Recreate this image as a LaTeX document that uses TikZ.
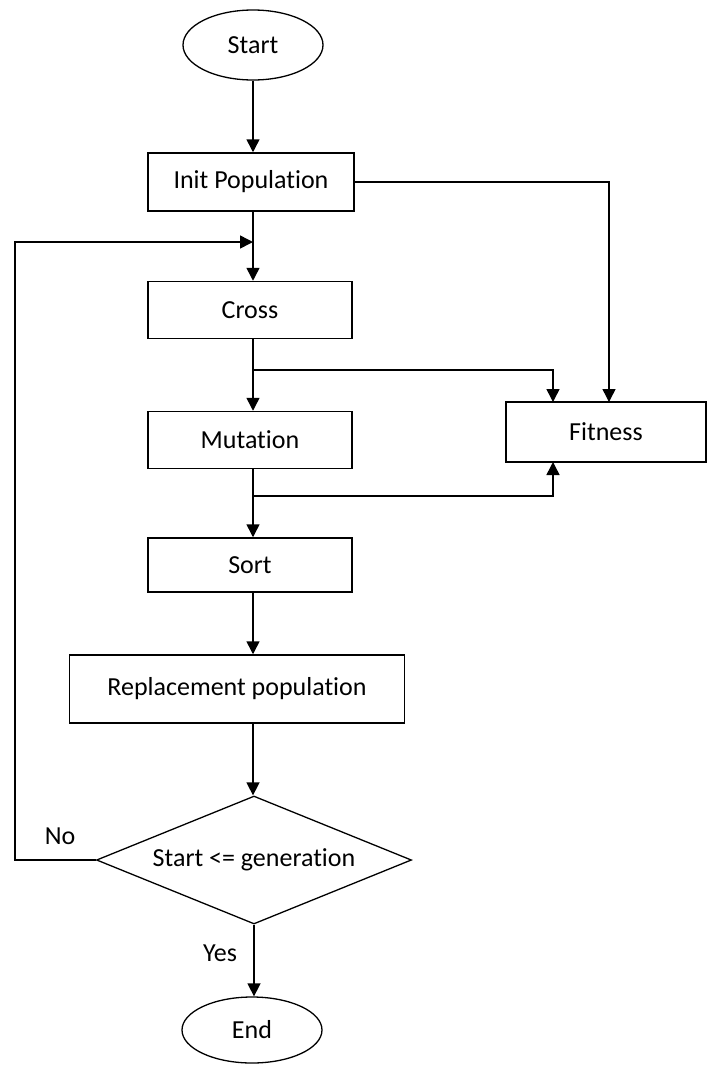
\documentclass[tikz,border=0pt]{standalone}
\usepackage{fontspec}
\setmainfont{Carlito}[RawFeature=-liga]
\usetikzlibrary{arrows.meta,shapes.geometric}
\begin{document}
\begin{tikzpicture}[x=1pt,y=-1pt,
  every node/.style={font=\fontsize{26}{31}\selectfont},
  box/.style={draw,line width=1.5pt,rectangle,inner sep=0pt},
  oval/.style={draw,line width=1.3pt,ellipse,inner sep=0pt,minimum width=140,minimum height=70},
  decision/.style={draw,line width=1.3pt,diamond,inner sep=0pt,aspect=2.45,minimum width=315,minimum height=128},
  conn/.style={line width=1.5pt},
  arr/.style={conn,-{Triangle[width=13pt,length=13pt]}},
  lbl/.style={inner sep=0pt}
]
\useasboundingbox (0,0) rectangle (707,1066);
\node[oval] (start) at (253,45) {Start};
\node[box,minimum width=206,minimum height=58] (init) at (251,182) {Init Population};
\node[box,minimum width=204,minimum height=57] (cross) at (250,310) {Cross};
\node[box,minimum width=204,minimum height=57] (mut) at (250,440) {Mutation};
\node[box,minimum width=200,minimum height=60] (fit) at (606,432) {Fitness};
\node[box,minimum width=204,minimum height=54] (sort) at (250,565) {Sort};
\node[box,minimum width=335,minimum height=68] (rep) at (237,689) {Replacement population};
\node[decision] (dec) at (254,860) {Start <= generation};
\node[oval,minimum height=66] (end) at (252,1030) {End};
\node[lbl] (no) at (60,836) {No};
\node[lbl] (yes) at (220,953) {Yes};

\coordinate (initb) at (253,211);
\coordinate (fbin) at (253,242);
\coordinate (fbcorner) at (15,242);
\coordinate (crossb) at (253,339);
\coordinate (crossbr) at (253,370);
\coordinate (fitin1) at (553,402);
\coordinate (fitin2) at (609,402);
\coordinate (mutb) at (253,468);
\coordinate (mutbr) at (253,496);
\coordinate (fitbot) at (553,462);

\draw[arr] (start.south) -- (init.north -| start.south);
\draw[arr] (initb) -- (cross.north -| initb);
\draw[arr] (init.east) -| (fitin2);
\draw[arr] (crossb) -- (mut.north -| crossb);
\draw[arr] (crossbr) -| (fitin1);
\draw[arr] (mutb) -- (sort.north -| mutb);
\draw[arr] (mutbr) -| (fitbot);
\draw[arr] (sort.south -| mutb) -- (rep.north -| mutb);
\draw[arr] (rep.south -| mutb) -- (dec.north -| mutb);
\draw[arr] (dec.west) -| (fbcorner) -- (fbin);
\draw[arr] (dec.south) -- (end.north -| dec.south);
\end{tikzpicture}
\end{document}
